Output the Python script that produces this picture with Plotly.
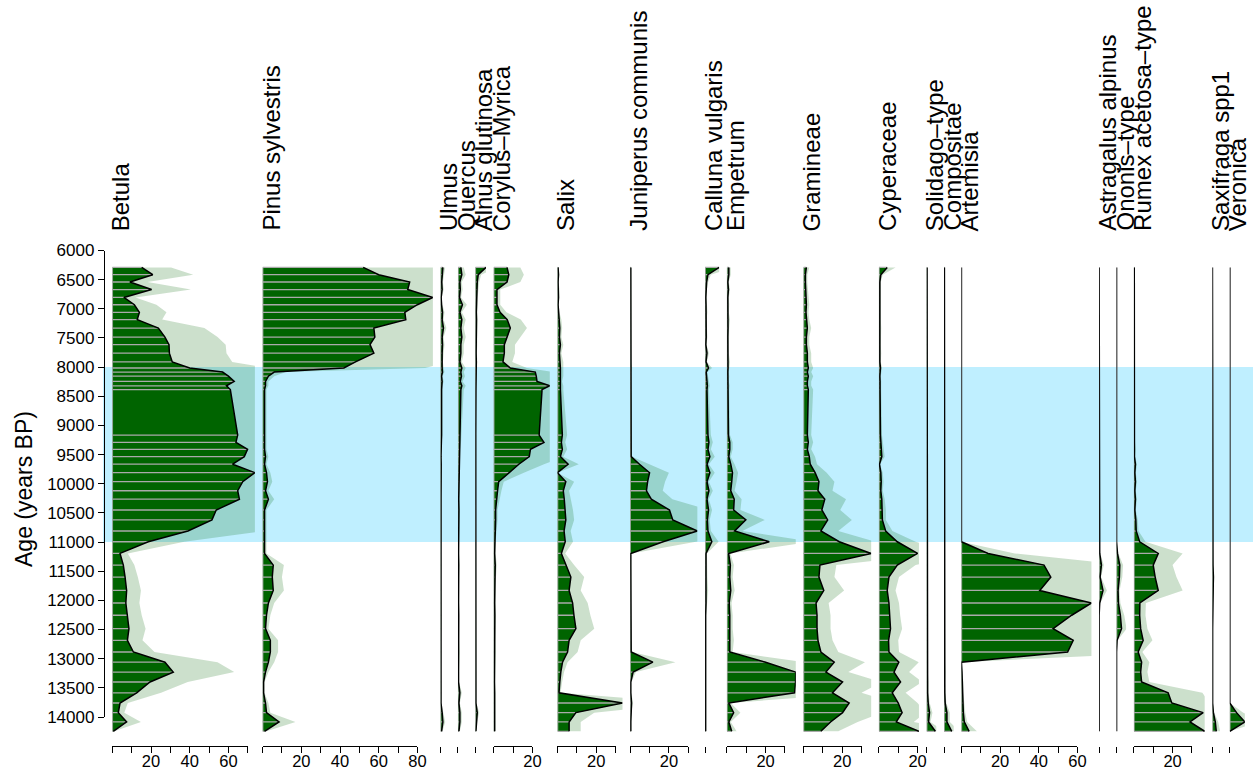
import plotly.graph_objects as go

# ---------------- data ----------------
ages = [6290, 6415, 6540, 6670, 6805, 6930, 7060, 7185, 7330, 7485,
        7615, 7760, 7910, 8015, 8085, 8155, 8245, 8320, 8385, 9165,
        9290, 9410, 9535, 9665, 9810, 9965, 10120, 10265, 10450, 10620,
        10810, 10995, 11195, 11395, 11600, 11830, 12045, 12255, 12485, 12685,
        12885, 13060, 13230, 13400, 13585, 13760, 13925, 14085, 14245]

taxa = ["Betula", "Pinus sylvestris", "Ulmus", "Quercus", "Alnus glutinosa",
        "Corylus\u2013Myrica", "Salix", "Juniperus communis", "Calluna vulgaris",
        "Empetrum", "Gramineae", "Cyperaceae", "Solidago\u2013type", "Compositae",
        "Artemisia", "Astragalus alpinus", "Ononis\u2013type", "Rumex acetosa\u2013type",
        "Saxifraga spp1", "Veronica"]

betula = [15.2, 20.9, 9.1, 20.3, 6.0, 11.4, 14.0, 12.9, 23.8, 27.2,
          29.3, 29.5, 31.0, 40.0, 57.0, 60.0, 63.0, 59.0, 61.0, 64.8,
          63.9, 69.9, 68.2, 62.2, 73.7, 67.4, 64.8, 65.7, 53.7, 51.5,
          39.1, 18.6, 4.0, 5.7, 6.6, 7.4, 7.0, 7.6, 8.6, 7.8,
          10.9, 27.2, 31.5, 19.5, 12.6, 4.0, 3.1, 7.4, 0.5]
pinus = [52, 60, 76, 75, 88, 80, 73.5, 74, 57.5, 58,
         55.5, 57.5, 48, 42, 6, 3, 1.5, 1.5, 1, 1,
         1, 1, 1.5, 1, 2, 2.5, 1.5, 3, 1, 1,
         1, 1, 1, 5.5, 5, 5.5, 3, 2, 1.5, 4,
         4, 3, 1.5, 0.5, 0.5, 1.5, 2, 8.5, 1]
ulmus = [1.2, 0.8, 0.6, 0.8, 0.3, 0.5, 1.0, 0.8, 1.5, 0.8,
         1.0, 0.8, 0.6, 0.8, 1.0, 0.5, 0.8, 0.5, 0.5, 0.5,
         0.3, 0.3, 0.2, 0.3, 0.2, 0.3, 0.2, 0.2, 0.2, 0.2,
         0.2, 0.2, 0.1, 0.2, 0.1, 0.2, 0.2, 0.3, 0.2, 0.1,
         0.2, 0.1, 0.1, 0.2, 0.3, 0.2, 0.8, 1.2, 0.5]
quercus = [1.5, 2.0, 1.0, 1.2, 0.8, 2.3, 1.0, 2.0, 1.5, 2.0,
           1.5, 1.5, 1.0, 2.0, 1.5, 1.8, 1.2, 2.0, 1.5, 1.0,
           0.8, 0.6, 0.5, 0.5, 0.5, 0.4, 0.5, 0.4, 0.5, 0.4,
           0.3, 0.3, 0.3, 0.4, 0.3, 0.3, 0.3, 0.4, 0.3, 0.3,
           0.5, 0.3, 0.3, 0.3, 1.0, 0.5, 1.0, 1.0, 0.5]
alnus = [5.5, 1.5, 1.0, 0.8, 0.6, 0.6, 0.5, 0.6, 0.5, 0.5,
         0.5, 0.4, 0.5, 0.4, 0.4, 0.3, 0.3, 0.3, 0.3, 0.2,
         0.2, 0.2, 0.2, 0.2, 0.2, 0.2, 0.2, 0.2, 0.2, 0.2,
         0.2, 0.2, 0.2, 0.3, 0.3, 0.3, 0.3, 0.3, 0.3, 0.2,
         0.3, 0.3, 0.3, 0.3, 0.3, 0.3, 1.0, 0.5, 0.3]
corylus = [6.9, 7.8, 6.9, 1.7, 1.7, 1.7, 3.3, 7.0, 8.6, 6.9,
           5.5, 5.5, 4.8, 8.6, 21.5, 22.0, 22.4, 29.0, 25.0, 23.5,
           26.0, 19.0, 18.4, 13.0, 7.8, 2.6, 2.0, 1.5, 1.0, 1.0,
           0.8, 0.5, 0.5, 0.8, 0.6, 0.5, 0.5, 0.6, 0.5, 0.5,
           0.6, 0.5, 0.5, 0.4, 0.5, 0.5, 0.6, 0.5, 0.5]
salix = [0.3, 0.5, 0.3, 0.5, 0.5, 0.3, 0.5, 1.0, 1.2, 1.0,
         1.5, 1.0, 1.5, 1.5, 1.5, 1.5, 1.2, 1.5, 1.5, 2.5,
         2.0, 2.5, 1.5, 5.5, 0.0, 4.3, 3.0, 3.5, 4.0, 4.3,
         3.4, 4.0, 2.0, 4.3, 6.9, 6.0, 7.8, 8.5, 9.5, 6.0,
         5.2, 2.6, 1.7, 1.2, 0.8, 33.6, 9.5, 6.0, 6.0]
juniperus = [0.3, 0.3, 0.3, 0.3, 0.3, 0.3, 0.3, 0.3, 0.3, 0.3,
             0.3, 0.3, 0.3, 0.5, 0.3, 0.3, 0.3, 0.3, 0.3, 0.3,
             0.3, 0.3, 0.5, 4.8, 10.0, 9.0, 8.4, 10.9, 20.3, 22.0,
             34.7, 17.0, 0.3, 0.3, 0.3, 0.3, 0.3, 0.3, 0.3, 0.3,
             0.5, 11.7, 1.5, 0.3, 0.3, 0.7, 0.3, 0.3, 0.3]
calluna = [7.3, 1.5, 0.8, 0.5, 0.4, 0.5, 0.6, 0.4, 0.5, 0.6,
           0.4, 1.0, 0.5, 1.8, 0.6, 0.8, 1.0, 1.2, 1.0, 1.5,
           2.0, 1.5, 2.5, 1.0, 2.5, 1.0, 2.0, 1.0, 1.8, 1.2,
           1.5, 3.5, 0.5, 0.5, 0.6, 0.8, 0.5, 0.3, 0.3, 0.3,
           0.3, 0.3, 0.3, 0.3, 0.3, 0.3, 0.3, 0.3, 0.3]
empetrum = [1.0, 1.0, 0.5, 0.8, 0.5, 0.6, 0.5, 0.8, 0.6, 0.5,
            0.6, 0.5, 0.8, 0.6, 0.5, 0.6, 0.5, 0.7, 0.6, 0.8,
            1.5, 1.5, 1.0, 2.0, 2.9, 2.5, 2.0, 3.8, 3.5, 9.8,
            4.0, 21.9, 0.9, 1.8, 1.5, 2.0, 1.2, 1.5, 1.5, 1.8,
            1.5, 20.0, 35.6, 35.5, 35.0, 1.0, 3.5, 1.0, 2.5]
gramineae = [1.5, 1.0, 1.0, 1.2, 1.5, 1.5, 1.3, 1.5, 2.0, 1.5,
             1.5, 2.0, 2.0, 2.5, 2.0, 2.5, 2.0, 2.0, 2.5, 2.0,
             2.5, 2.0, 3.0, 3.5, 6.0, 8.0, 7.5, 11.0, 9.5, 12.5,
             9.0, 18.5, 35.0, 8.5, 8.0, 10.5, 6.5, 7.0, 7.0, 7.5,
             9.0, 15.9, 11.6, 20.2, 15.0, 23.6, 20.2, 14.0, 9.0]
cyperaceae = [4.3, 1.0, 0.5, 0.5, 0.4, 0.5, 0.4, 0.5, 0.6, 0.5,
              0.5, 0.6, 0.5, 0.8, 0.6, 0.5, 0.6, 0.5, 0.6, 0.8,
              1.0, 1.2, 1.5, 0.3, 1.0, 1.2, 1.0, 1.5, 1.8, 1.8,
              3.5, 9.5, 20.0, 9.5, 5.2, 4.3, 5.2, 5.5, 6.0, 5.0,
              5.2, 10.3, 7.8, 11.2, 6.9, 10.0, 12.0, 9.0, 20.7]
solidago = [0.2] * 41 + [0.3, 0.3, 0.5, 0.5, 0.8, 1.5, 1.0, 4.5]
compositae = [0.2] * 41 + [0.3, 0.4, 0.3, 0.4, 0.6, 1.5, 1.5, 4.0]
artemisia = [0.0] * 32 + [13.8, 42.7, 46.2, 40.5, 67.2, 57.0, 47.4, 57.8,
                          54.9, 0.0, 0.3, 0.5, 0.5, 0.8, 1.0, 1.5, 4.0]
astragalus = [0.0] * 32 + [0.3, 1.2, 0.5, 2.0, 0.3] + [0.0] * 12
ononis = [0.0] * 32 + [0.5, 1.7, 1.5, 0.8, 1.0, 2.0, 2.6, 0.3] + [0.0] * 9
rumex = [0.2] * 20 + [0.3, 0.5, 0.3, 0.8, 0.5, 0.8, 0.5, 0.8, 0.5, 1.0,
                      1.2, 3.0, 12.6, 10.0, 11.0, 12.6, 3.1, 3.0, 3.5, 4.8,
                      2.2, 4.0, 3.5, 4.0, 17.7, 19.6, 35.8, 29.0, 36.6]
saxifraga = [0.0] * 33 + [0.3, 0.5, 0.3] + [0.1] * 10 + [0.5, 1.5, 2.0]
veronica = [0.0] * 46 + [3.5, 7.8, 0.0]

series = [betula, pinus, ulmus, quercus, alnus, corylus, salix, juniperus,
          calluna, empetrum, gramineae, cyperaceae, solidago, compositae,
          artemisia, astragalus, ononis, rumex, saxifraga, veronica]

zone = [8000, 11000]
age_ticks = list(range(6000, 14001, 500))
exag_mult = 2

# ---------------- layout constants (pixels) ----------------
W, H = 1253, 770
PX_PER_PCT = 1.935
LEFT0 = 112.3
GAP = 7.7
MIN_W = 5.0
Y_TOP_PX, Y_LAST_TICK_PX = 250.5, 717.0
PLOT_BOTTOM_PX = 740.0
AXIS_LINE_PX = 745.5
LABEL_BASE_PX = 233.0
YAXIS_X_PX = 104.0
FONT = "Liberation Sans, Arial, Helvetica, sans-serif"

px_per_year = (Y_LAST_TICK_PX - Y_TOP_PX) / (age_ticks[-1] - age_ticks[0])
age_bottom = age_ticks[0] + (PLOT_BOTTOM_PX - Y_TOP_PX) / px_per_year
ydom = [1 - PLOT_BOTTOM_PX / H, 1 - Y_TOP_PX / H]

DARK = "#006400"
EXAGC = "rgba(0,100,0,0.2)"
BARC = "#aaaaaa"

fig = go.Figure()
layout = {}
annotations = []
n = len(taxa)
x0 = LEFT0


def axname(prefix, k):
    return prefix if k == 1 else f"{prefix}{k}"


for i, (name, vals) in enumerate(zip(taxa, series)):
    k = i + 1
    xa, ya = axname("x", k), axname("y", k)
    wmax = max(max(vals), MIN_W)
    wpx = wmax * PX_PER_PCT
    layout[axname("xaxis", k)] = dict(domain=[x0 / W, (x0 + wpx) / W], range=[0, wmax],
                                     visible=False, fixedrange=True, anchor=ya,
                                     automargin=False)
    layout[axname("yaxis", k)] = dict(domain=ydom, range=[age_bottom, age_ticks[0]],
                                     visible=False, fixedrange=True, anchor=xa,
                                     automargin=False)
    # exaggeration
    fig.add_trace(go.Scatter(x=[v * exag_mult for v in vals], y=ages, mode="lines",
                             line=dict(width=0, color=EXAGC), fill="tozerox",
                             fillcolor=EXAGC, xaxis=xa, yaxis=ya, hoverinfo="skip"))
    # main silhouette
    fig.add_trace(go.Scatter(x=vals, y=ages, mode="lines", line=dict(width=0, color=DARK),
                             fill="tozerox", fillcolor=DARK, xaxis=xa, yaxis=ya,
                             hoverinfo="skip"))
    # bars
    bx, by = [], []
    for a, v in zip(ages, vals):
        bx += [0, v, None]
        by += [a, a, None]
    fig.add_trace(go.Scatter(x=bx, y=by, mode="lines", line=dict(width=1.3, color=BARC),
                             xaxis=xa, yaxis=ya, hoverinfo="skip"))
    # baseline
    fig.add_trace(go.Scatter(x=[0, 0], y=[ages[0], ages[-1]], mode="lines",
                             line=dict(width=1.5, color=BARC), xaxis=xa, yaxis=ya,
                             hoverinfo="skip"))
    # outline curve
    fig.add_trace(go.Scatter(x=vals, y=ages, mode="lines", line=dict(width=1.5, color="black"),
                             xaxis=xa, yaxis=ya, hoverinfo="skip"))

    # bottom tick axis
    k2 = n + 1 + i
    tmax = int(max(vals) // 10 * 10)
    if tmax > 0:
        tv = list(range(0, tmax + 1, 10))
        dom = [x0 / W, (x0 + tmax * PX_PER_PCT) / W]
        rng = [0, tmax]
        showline = True
    else:
        tv = [0]
        dom = [x0 / W, (x0 + 1) / W]
        rng = [0, 1]
        showline = False
    tt = [str(t) if (t > 0 and t % 20 == 0) else "" for t in tv]
    layout[f"xaxis{k2}"] = dict(domain=dom, range=rng, anchor="free",
                                position=1 - AXIS_LINE_PX / H, side="bottom",
                                showline=showline, linecolor="black", linewidth=1.3,
                                ticks="outside", ticklen=6, tickwidth=1.3, tickcolor="black",
                                tickvals=tv, ticktext=tt, showgrid=False, zeroline=False,
                                fixedrange=True, automargin=False, ticklabelstandoff=-5,
                                tickfont=dict(size=16.5, family=FONT, color="black"))
    fig.add_trace(go.Scatter(x=[0], y=[ages[0]], mode="markers", marker=dict(opacity=0),
                             xaxis=f"x{k2}", yaxis=ya, hoverinfo="skip"))

    # taxon label
    annotations.append(dict(text=name, x=(x0 + 8.5) / W, y=1 - LABEL_BASE_PX / H,
                            xref="paper", yref="paper", xanchor="center", yanchor="bottom",
                            textangle=-90, showarrow=False,
                            font=dict(size=24, family=FONT, color="black")))
    x0 += wpx + GAP

# age axis
k3 = 2 * n + 1
layout[f"yaxis{k3}"] = dict(domain=[1 - Y_LAST_TICK_PX / H, 1 - Y_TOP_PX / H],
                            range=[age_ticks[-1], age_ticks[0]], anchor="free",
                            position=YAXIS_X_PX / W, side="left", showline=True,
                            linecolor="black", linewidth=1.3, ticks="outside", ticklen=6,
                            tickwidth=1.3, tickcolor="black", tickvals=age_ticks,
                            ticktext=[str(t) for t in age_ticks], showgrid=False,
                            zeroline=False, fixedrange=True, automargin=False,
                            tickfont=dict(size=17, family=FONT, color="black"))
fig.add_trace(go.Scatter(x=[0], y=[ages[0]], mode="markers", marker=dict(opacity=0),
                         xaxis="x", yaxis=f"y{k3}", hoverinfo="skip"))

annotations.append(dict(text="Age (years BP)", x=24 / W, y=1 - 489 / H, xref="paper",
                        yref="paper", xanchor="center", yanchor="middle", textangle=-90,
                        showarrow=False, font=dict(size=23, family=FONT, color="black")))

shapes = [dict(type="rect", xref="paper", yref="y", x0=103 / W, x1=1, y0=zone[0], y1=zone[1],
               fillcolor="rgba(0,191,255,0.25)", line=dict(width=0), layer="below")]

fig.update_layout(width=W, height=H, margin=dict(l=0, r=0, t=0, b=0, autoexpand=False),
                  paper_bgcolor="white", plot_bgcolor="rgba(0,0,0,0)", showlegend=False,
                  annotations=annotations, shapes=shapes, **layout)

fig.write_html("out.html", config={"displayModeBar": False},
               post_script="document.body.style.margin='0';"
                           "document.documentElement.style.overflow='hidden';")
